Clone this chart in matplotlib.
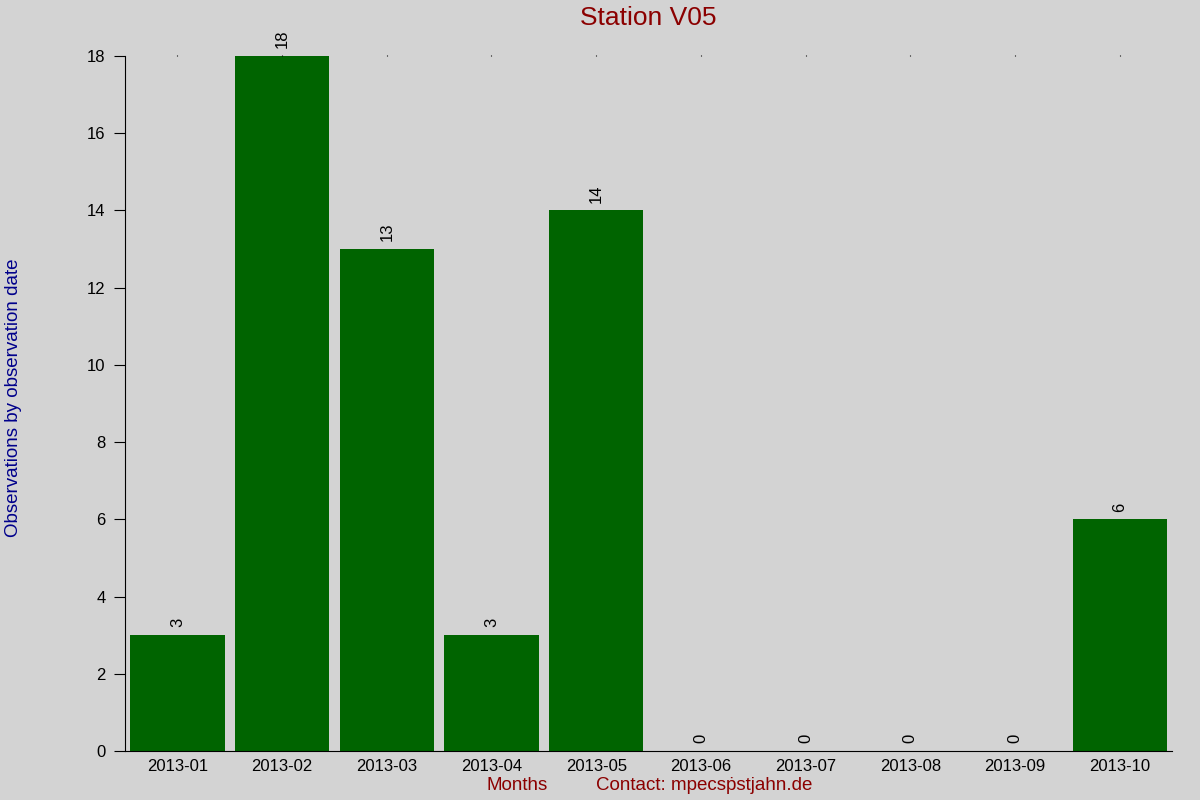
import matplotlib.pyplot as plt

# Datos
meses = ['2013-01', '2013-02', '2013-03', '2013-04', '2013-05',
         '2013-06', '2013-07', '2013-08', '2013-09', '2013-10']
observaciones = [3, 18, 13, 3, 14, 0, 0, 0, 0, 6]

plt.rcParams['font.family'] = ['Liberation Sans', 'DejaVu Sans']

fig = plt.figure(figsize=(12, 8), dpi=100, facecolor='#d3d3d3')
ax = fig.add_axes([0.1042, 0.06125, 0.8725, 0.86875])
ax.set_facecolor('#d3d3d3')

x = range(len(meses))
ax.bar(x, observaciones, width=0.9, color='#006400')

# etiquetas de valor sobre las barras
for xi, v in zip(x, observaciones):
    ax.text(xi, v + 0.2, str(v), rotation=90, ha='center', va='bottom', fontsize=12)

ax.set_xlim(-0.5, len(meses) - 0.5)
ax.set_ylim(0, 18)
ax.set_yticks(range(0, 19, 2))
ax.set_xticks(list(x))
ax.set_xticklabels(meses, fontsize=12)
ax.tick_params(axis='y', labelsize=12, length=8, direction='out', pad=6)
ax.tick_params(axis='x', bottom=False, top=True, length=1, pad=5)

for s in ['top', 'right']:
    ax.spines[s].set_visible(False)

fig.text(0.54, 0.978, 'Station V05', color='#8b0000', fontsize=19, ha='center', va='center')
fig.text(0.011, 0.503, 'Observations by observation date', color='#00008b', fontsize=13.5,
         rotation=90, ha='center', va='center')
fig.text(0.431, 0.0175, 'Months', color='#8b0000', fontsize=13.5, ha='center', va='center')
fig.text(0.587, 0.0175, 'Contact: mpecs\u1e57stjahn.de', color='#8b0000', fontsize=13.5,
         ha='center', va='center')

plt.savefig('out.png', dpi=100, facecolor=fig.get_facecolor())
